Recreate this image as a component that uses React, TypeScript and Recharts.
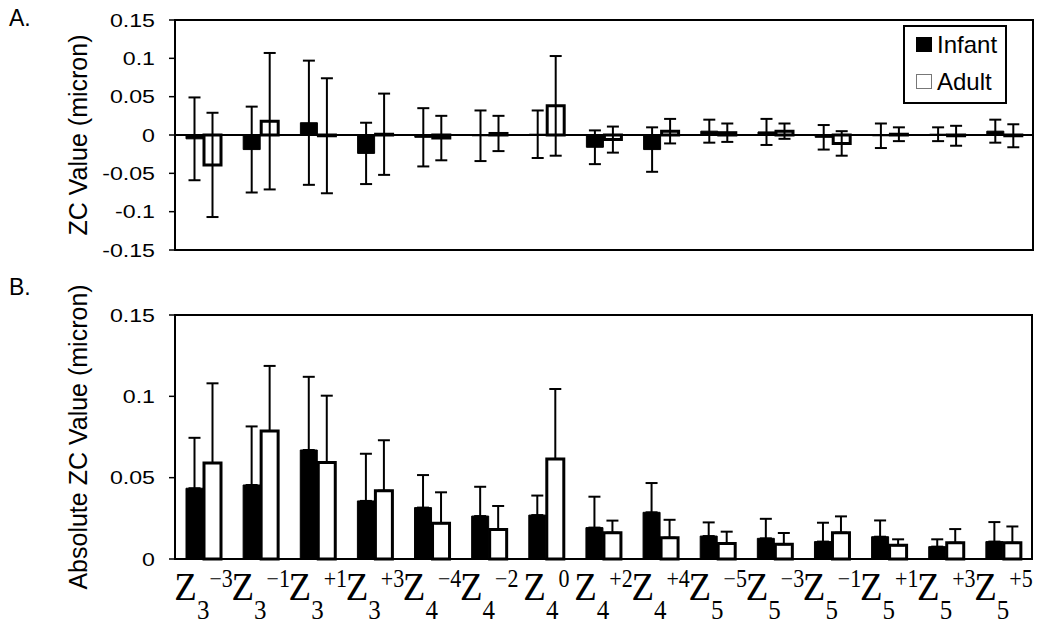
import React from 'react';
import {
  BarChart,
  Bar,
  XAxis,
  YAxis,
  ErrorBar,
  ReferenceLine,
  ReferenceArea,
  Legend,
  Label,
} from 'recharts';

const SANS = '"Liberation Sans", Arial, Helvetica, sans-serif';
const SERIF = '"Liberation Serif", "Times New Roman", serif';

// Zernike terms: radial order (subscript) and angular frequency (superscript)
const zOrders = ['3', '3', '3', '3', '4', '4', '4', '4', '4', '5', '5', '5', '5', '5', '5'];
const zFreqs = ['−3', '−1', '+1', '+3', '−4', '−2', '0', '+2', '+4', '−5', '−3', '−1', '+1', '+3', '+5'];
const categories = zOrders.map((n, i) => `Z${n}${zFreqs[i]}`);
const seriesOrder = ['Infant', 'Adult'];

// Panel A: signed ZC values (micron), symmetric SD
const infantZC = [-0.005, -0.019, 0.016, -0.024, -0.003, -0.001, 0.001, -0.016, -0.019, 0.005, 0.004, -0.003, -0.001, 0.001, 0.005];
const infantZCSd = [0.054, 0.056, 0.081, 0.04, 0.038, 0.033, 0.031, 0.022, 0.029, 0.015, 0.017, 0.016, 0.016, 0.009, 0.015];
const adultZC = [-0.039, 0.018, -0.001, 0.001, -0.004, 0.002, 0.038, -0.006, 0.005, 0.003, 0.005, -0.011, 0.001, -0.001, -0.001];
const adultZCSd = [0.068, 0.089, 0.075, 0.053, 0.029, 0.023, 0.065, 0.017, 0.016, 0.012, 0.01, 0.016, 0.009, 0.013, 0.015];

// Panel B: absolute ZC values (micron), upper SD only
const infantAbs = [0.0435, 0.0455, 0.067, 0.0357, 0.0316, 0.0264, 0.027, 0.0193, 0.0287, 0.0141, 0.0127, 0.0107, 0.0137, 0.0076, 0.0107];
const infantAbsSd = [0.031, 0.036, 0.045, 0.029, 0.02, 0.018, 0.012, 0.019, 0.018, 0.0084, 0.012, 0.0116, 0.01, 0.0045, 0.012];
const adultAbs = [0.059, 0.0787, 0.0594, 0.042, 0.022, 0.0182, 0.0615, 0.0162, 0.0131, 0.0096, 0.009, 0.0162, 0.0084, 0.01, 0.01];
const adultAbsSd = [0.049, 0.04, 0.041, 0.031, 0.019, 0.0144, 0.043, 0.0074, 0.011, 0.0072, 0.007, 0.01, 0.0037, 0.0084, 0.01];

const ticksA = [-0.15, -0.1, -0.05, 0, 0.05, 0.1, 0.15];
const ticksB = [0, 0.05, 0.1, 0.15];

const signedData = categories.map((name, i) => ({
  name,
  infant: infantZC[i],
  infantSd: infantZCSd[i],
  adult: adultZC[i],
  adultSd: adultZCSd[i],
}));

const absData = categories.map((name, i) => ({
  name,
  infant: infantAbs[i],
  infantSd: [0, infantAbsSd[i]],
  adult: adultAbs[i],
  adultSd: [0, adultAbsSd[i]],
}));

const YTick = ({ x, y, payload }: any) => (
  <text
    transform={`translate(${x},${y}) scale(1.22,1)`}
    textAnchor="end"
    dominantBaseline="central"
    fontSize={19}
    fontFamily={SANS}
    fill="#000"
  >
    {`${payload.value}`}
  </text>
);

const ZTick = ({ x, y, payload }: any) => {
  const i = categories.indexOf(payload.value);
  return (
    <text
      transform={`translate(${x},${y + 41}) scale(1,1.1)`}
      textAnchor="middle"
      fontFamily={SERIF}
      fill="#000"
    >
      <tspan fontSize={37}>Z</tspan>
      <tspan fontSize={25} dy={17}>{zOrders[i]}</tspan>
      <tspan fontSize={22} dy={-29}>{zFreqs[i]}</tspan>
    </text>
  );
};

const yTitle = (text: string) => (props: any) => {
  const vb = props.viewBox || { x: 0, y: 0, height: 0 };
  const cx = 78;
  const cy = vb.y + vb.height / 2;
  return (
    <text
      x={cx}
      y={cy}
      transform={`rotate(-90 ${cx} ${cy})`}
      textAnchor="middle"
      dominantBaseline="central"
      fontSize={25}
      fontFamily={SANS}
      fill="#000"
    >
      {text}
    </text>
  );
};

const LegendBox = ({ payload }: any) => {
  const items = [...(payload || [])].sort(
    (a: any, b: any) => seriesOrder.indexOf(a.value) - seriesOrder.indexOf(b.value)
  );
  return (
    <div
      style={{
        position: 'relative',
        boxSizing: 'border-box',
        width: 104,
        height: 79,
        border: '2px solid #000',
        background: '#fff',
        fontFamily: SANS,
        fontSize: 24,
        color: '#000',
      }}
    >
      {items.map((entry: any, idx: number) => (
        <div
          key={entry.value}
          style={{ position: 'absolute', left: 11, top: 4 + idx * 37, height: 24, lineHeight: '24px', whiteSpace: 'nowrap' }}
        >
          <span
            style={{
              display: 'inline-block',
              boxSizing: 'border-box',
              width: 16,
              height: 15,
              marginRight: 5,
              verticalAlign: 'middle',
              background: entry.color,
              border: idx === 0 ? '1px solid #000' : '1px solid #777',
            }}
          />
          <span style={{ verticalAlign: 'middle' }}>{entry.value}</span>
        </div>
      ))}
    </div>
  );
};

const panelLetter = (text: string, top: number) => (
  <div
    style={{
      position: 'absolute',
      left: 9,
      top,
      fontFamily: SANS,
      fontSize: 23,
      lineHeight: '23px',
      color: '#000',
    }}
  >
    {text}
  </div>
);

export default function App() {
  return (
    <div style={{ position: 'absolute', left: 0, top: 0, width: 1050, height: 627, background: '#fff' }}>
      {panelLetter('A.', 7)}
      {panelLetter('B.', 276)}

      <div style={{ position: 'absolute', left: 0, top: 0 }}>
        <BarChart
          width={1050}
          height={270}
          data={signedData}
          margin={{ top: 20, right: 17, bottom: 20, left: 0 }}
          barSize={17}
          barGap={1}
        >
          <XAxis dataKey="name" hide />
          <YAxis
            width={175}
            domain={[-0.15, 0.15]}
            ticks={ticksA}
            axisLine={false}
            tickLine={{ stroke: '#000', strokeWidth: 1.5 }}
            tickSize={6}
            tickMargin={14}
            tick={<YTick />}
            interval={0}
          >
            <Label content={yTitle('ZC Value (micron)')} />
          </YAxis>
          <ReferenceArea y1={-0.15} y2={0.15} fill="none" stroke="#000" strokeWidth={2} />
          <ReferenceLine y={0} stroke="#000" strokeWidth={2} />
          <Legend
            layout="vertical"
            align="center"
            verticalAlign="middle"
            content={<LegendBox />}
            wrapperStyle={{ left: 903, top: 25, width: 104, height: 79 }}
          />
          <Bar dataKey="infant" name="Infant" fill="#000" stroke="#000" strokeWidth={1} isAnimationActive={false}>
            <ErrorBar dataKey="infantSd" width={6} stroke="#000" strokeWidth={2} direction="y" />
          </Bar>
          <Bar dataKey="adult" name="Adult" fill="#fff" stroke="#000" strokeWidth={3} isAnimationActive={false}>
            <ErrorBar dataKey="adultSd" width={6} stroke="#000" strokeWidth={2} direction="y" />
          </Bar>
        </BarChart>
      </div>

      <div style={{ position: 'absolute', left: 0, top: 270 }}>
        <BarChart
          width={1050}
          height={357}
          data={absData}
          margin={{ top: 45, right: 18, bottom: 0, left: 0 }}
          barSize={17}
          barGap={1}
        >
          <XAxis
            dataKey="name"
            height={68}
            axisLine={false}
            tickLine={false}
            tickSize={0}
            tickMargin={0}
            interval={0}
            tick={<ZTick />}
          />
          <YAxis
            width={175}
            domain={[0, 0.15]}
            ticks={ticksB}
            axisLine={false}
            tickLine={{ stroke: '#000', strokeWidth: 1.5 }}
            tickSize={6}
            tickMargin={14}
            tick={<YTick />}
            interval={0}
          >
            <Label content={yTitle('Absolute ZC Value (micron)')} />
          </YAxis>
          <ReferenceArea y1={0} y2={0.15} fill="none" stroke="#000" strokeWidth={2} />
          <Bar dataKey="infant" name="Infant" fill="#000" stroke="#000" strokeWidth={1} isAnimationActive={false}>
            <ErrorBar dataKey="infantSd" width={6} stroke="#000" strokeWidth={2} direction="y" />
          </Bar>
          <Bar dataKey="adult" name="Adult" fill="#fff" stroke="#000" strokeWidth={3} isAnimationActive={false}>
            <ErrorBar dataKey="adultSd" width={6} stroke="#000" strokeWidth={2} direction="y" />
          </Bar>
        </BarChart>
      </div>
    </div>
  );
}
